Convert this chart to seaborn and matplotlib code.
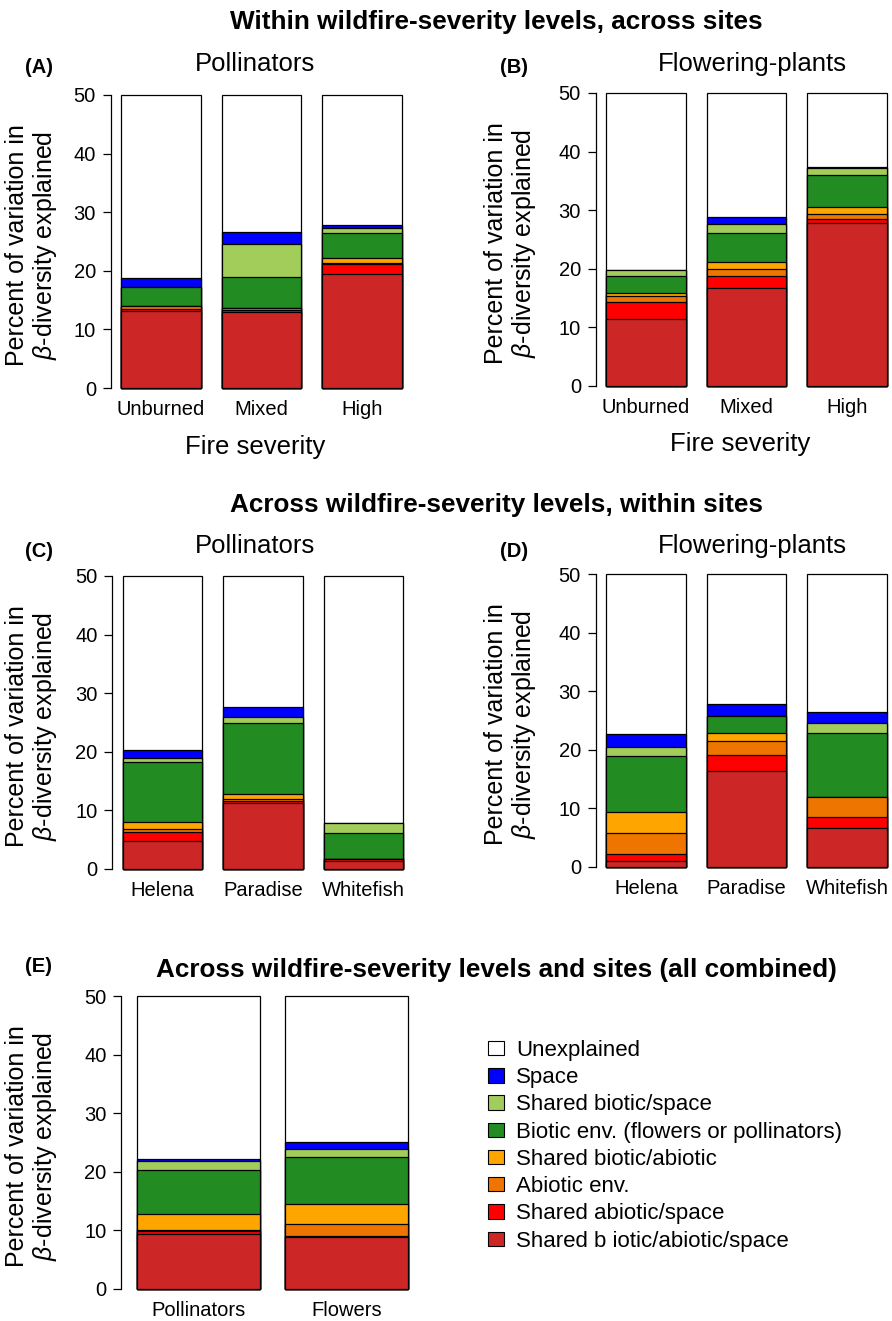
import numpy as np
import matplotlib
matplotlib.use("Agg")
import matplotlib.pyplot as plt
from matplotlib.patches import Patch
import seaborn as sns

sns.set_style("white")
plt.rcParams["font.family"] = ["Liberation Sans", "DejaVu Sans"]
plt.rcParams["mathtext.fontset"] = "custom"
plt.rcParams["mathtext.it"] = "Liberation Sans:italic"
plt.rcParams["mathtext.rm"] = "Liberation Sans"
for key in ["text.color", "axes.labelcolor", "xtick.color", "ytick.color"]:
    plt.rcParams[key] = "black"

# Variation-partitioning fractions, bottom to top of each stack
components = [
    "Shared b iotic/abiotic/space",
    "Shared abiotic/space",
    "Abiotic env.",
    "Shared biotic/abiotic",
    "Biotic env. (flowers or pollinators)",
    "Shared biotic/space",
    "Space",
    "Unexplained",
]
colors = ["#CD2626", "#FF0000", "#EE7600", "#FFA500",
          "#228B22", "#A2CD5A", "#0000FF", "#FFFFFF"]

severity = ["Unburned", "Mixed", "High"]
sites = ["Helena", "Paradise", "Whitefish"]
taxa = ["Pollinators", "Flowers"]

# Percent of variation explained by each fraction (first seven components)
poll_unburned = [13.1, 0.3, 0.6, 0.0, 3.2, 0.0, 1.6]
poll_mixed = [12.9, 0.45, 0.3, 0.0, 5.3, 5.6, 2.0]
poll_high = [19.5, 1.6, 0.3, 0.85, 4.15, 0.85, 0.6]

flow_unburned = [11.5, 2.75, 1.15, 0.55, 2.85, 1.0, 0.05]
flow_mixed = [16.65, 2.1, 1.25, 1.15, 5.0, 1.55, 1.2]
flow_high = [27.75, 0.7, 0.85, 1.2, 5.45, 1.2, 0.2]

poll_helena = [4.7, 1.55, 0.5, 1.35, 10.2, 0.7, 1.3]
poll_paradise = [11.3, 0.35, 0.25, 0.85, 12.25, 0.95, 1.7]
poll_whitefish = [1.4, 0.35, 0.0, 0.0, 4.4, 1.75, 0.0]

flow_helena = [0.95, 1.35, 3.5, 3.55, 9.6, 1.6, 2.1]
flow_paradise = [16.3, 2.8, 2.4, 1.45, 2.9, 0.0, 1.9]
flow_whitefish = [6.65, 1.9, 3.35, 0.0, 10.95, 1.7, 1.95]

all_pollinators = [9.45, 0.45, 0.2, 2.75, 7.4, 1.65, 0.35]
all_flowers = [8.8, 0.2, 2.1, 3.45, 7.9, 1.4, 1.2]

Y_TOP = 50
W, H = 892, 1321

fig = plt.figure(figsize=(W / 100, H / 100), dpi=100)


def fx(px):
    return px / W


def fy(py):
    return 1 - py / H


def make_axes(x0, x1, y_top, y_bot):
    return fig.add_axes([fx(x0), fy(y_bot), (x1 - x0) / W, (y_bot - y_top) / H])


def stacked(ax, cats, rows, width, xlim):
    segs = np.array(rows, dtype=float)
    cum = np.cumsum(segs, axis=1)
    tops = np.column_stack([cum, np.full(len(cats), Y_TOP)])
    # draw tallest layer first so each lower layer sits on top of it
    for k in range(len(components) - 1, -1, -1):
        sns.barplot(x=cats, y=tops[:, k], order=cats, color=colors[k],
                    width=width, saturation=1, edgecolor="black",
                    linewidth=0.9, errorbar=None, ax=ax)
    for p in ax.patches:
        p.set_clip_on(False)
    ax.set_ylim(0, Y_TOP)
    ax.set_xlim(*xlim)
    ax.set_xlabel("")
    ax.set_ylabel("")
    for s in ["top", "right", "bottom"]:
        ax.spines[s].set_visible(False)
    ax.spines["left"].set_bounds(0, Y_TOP)
    ax.spines["left"].set_linewidth(0.9)
    ax.spines["left"].set_color("black")
    ax.set_yticks(range(0, 51, 10))
    ax.tick_params(axis="y", length=5.5, width=0.9, pad=5, labelsize=14.5,
                   left=True, color="black", labelcolor="black")
    ax.tick_params(axis="x", length=0, pad=8.5, labelsize=14.5,
                   labelcolor="black")
    ax.set_facecolor("none")
    ax.grid(False)


def ylab(xc, yc):
    fig.text(fx(xc), fy(yc),
             "Percent of variation in\n$\\mathit{\\beta}$-diversity explained",
             rotation=90, ha="center", va="center", multialignment="center",
             fontsize=18, linespacing=1.05, color="black")


def put(xc, yb, s, size, bold=False, ha="center"):
    fig.text(fx(xc), fy(yb), s, ha=ha, va="baseline", fontsize=size,
             fontweight="bold" if bold else "normal", color="black")


# Section titles
put(496, 29, "Within wildfire-severity levels, across sites", 18.8, bold=True)
put(496, 512, "Across wildfire-severity levels, within sites", 18.8, bold=True)
put(496, 977, "Across wildfire-severity levels and sites (all combined)", 18.8, bold=True)

# (A) pollinators by severity
axA = make_axes(110.5, 412.5, 95, 388)
stacked(axA, severity, [poll_unburned, poll_mixed, poll_high], 0.79, (-0.5, 2.5))
put(25, 73, "(A)", 14.5, bold=True, ha="left")
put(255, 71, "Pollinators", 18.5)
put(255, 454, "Fire severity", 18.5)
ylab(32, 245)

# (B) flowering plants by severity
axB = make_axes(595.5, 897.5, 93, 386)
stacked(axB, severity, [flow_unburned, flow_mixed, flow_high], 0.79, (-0.5, 2.5))
put(500, 73, "(B)", 14.5, bold=True, ha="left")
put(752, 71, "Flowering-plants", 18.5)
put(740, 451, "Fire severity", 18.5)
ylab(511, 243)

# (C) pollinators by site
axC = make_axes(112, 414, 576, 869)
stacked(axC, sites, [poll_helena, poll_paradise, poll_whitefish], 0.79, (-0.5, 2.5))
put(25, 557, "(C)", 14.5, bold=True, ha="left")
put(255, 553, "Pollinators", 18.5)
ylab(32, 726)

# (D) flowering plants by site
axD = make_axes(595.5, 897.5, 574, 867)
stacked(axD, sites, [flow_helena, flow_paradise, flow_whitefish], 0.79, (-0.5, 2.5))
put(500, 557, "(D)", 14.5, bold=True, ha="left")
put(752, 553, "Flowering-plants", 18.5)
ylab(511, 724)

# (E) everything combined
axE = make_axes(121, 417, 996, 1289)
stacked(axE, taxa, [all_pollinators, all_flowers], 0.83, (-0.524, 1.476))
put(25, 972, "(E)", 14.5, bold=True, ha="left")
ylab(32, 1146)

handles = [Patch(facecolor=colors[k], edgecolor="black", linewidth=0.8,
                 label=components[k]) for k in range(len(components) - 1, -1, -1)]
fig.legend(handles=handles, loc="upper left",
           bbox_to_anchor=(fx(488), fy(1040)), frameon=False, fontsize=16,
           handlelength=0.7, handleheight=0.62, handletextpad=0.55,
           labelspacing=0.28, borderpad=0, borderaxespad=0,
           labelcolor="black")

fig.savefig("out.png", dpi=100)
